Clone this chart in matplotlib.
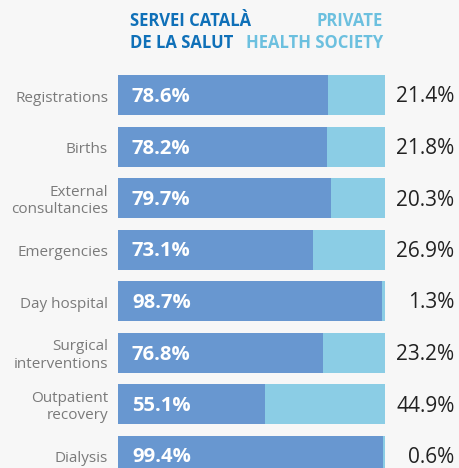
import matplotlib.pyplot as plt

plt.rcParams['font.family'] = ['Open Sans', 'DejaVu Sans']

categories = ['Registrations', 'Births', 'External\nconsultancies', 'Emergencies',
              'Day hospital', 'Surgical\ninterventions', 'Outpatient\nrecovery', 'Dialysis']
public_share = [78.6, 78.2, 79.7, 73.1, 98.7, 76.8, 55.1, 99.4]
private_share = [21.4, 21.8, 20.3, 26.9, 1.3, 23.2, 44.9, 0.6]

dark_blue = '#6897d0'
light_blue = '#8bcde5'
bg = '#f7f7f7'

W, H = 459, 468
fig = plt.figure(figsize=(W / 100, H / 100), dpi=100, facecolor=bg)

# axes box in pixel terms: x 118..385, y 60..468 (top-down)
ax = fig.add_axes([118 / W, 0, (385 - 118) / W, (468 - 60) / H])
ax.set_facecolor(bg)
step = 51.5
ax.set_ylim((468 - 95) / step, -(95 - 60) / step)
ax.set_xlim(0, 100)
ax.axis('off')

px = 1 / step  # one pixel in data units
ypos = list(range(len(categories)))
ax.barh(ypos, public_share, height=40 / step, color=dark_blue, linewidth=0)
ax.barh(ypos, private_share, left=public_share, height=40 / step, color=light_blue, linewidth=0)

for y, cat, pub, priv in zip(ypos, categories, public_share, private_share):
    ax.text(-3.7, y + 3 * px, cat, ha='right', va='center', fontsize=11, color='#7a7a7a',
            linespacing=1.26, clip_on=False)
    ax.text(5.2, y + 2 * px, f'{pub:.1f}%', ha='left', va='center', fontsize=14.6,
            fontweight='bold', color='white')
    ax.text(126, y + 2 * px, f'{priv:.1f}%', ha='right', va='center', fontsize=15,
            color='#222222', clip_on=False)

fig.text(130 / W, 1 - 12 / H, 'SERVEI CATALÀ\nDE LA SALUT', ha='left', va='top',
         fontsize=12, fontweight='bold', color='#0f70b8', linespacing=1.3)
fig.text(383 / W, 1 - 12 / H, 'PRIVATE\nHEALTH SOCIETY', ha='right', va='top',
         fontsize=12, fontweight='bold', color='#6cc0df', linespacing=1.3,
         multialignment='right')

fig.savefig('out.png', dpi=100, facecolor=bg)
